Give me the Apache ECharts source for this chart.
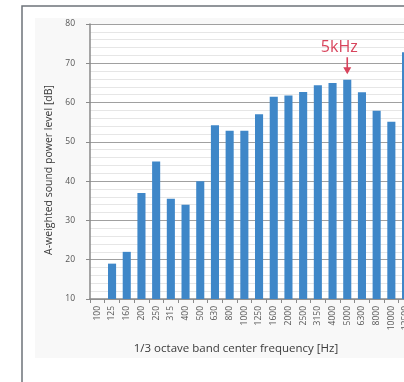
<!DOCTYPE html>
<html>
<head>
<meta charset="utf-8">
<script src="https://cdn.jsdelivr.net/npm/echarts@6/dist/echarts.min.js"></script>
<style>
  html, body { margin: 0; padding: 0; background: #ffffff; overflow: hidden; }
  #chart { width: 440px; height: 382px; }
</style>
</head>
<body>
<div id="chart"></div>
<script>
// 1/3 octave band centre frequencies [Hz]
const bands = ['100', '125', '160', '200', '250', '315', '400', '500', '630', '800',
  '1000', '1250', '1600', '2000', '2500', '3150', '4000', '5000', '6300', '8000',
  '10000', '12500'];

// A-weighted sound power level per band [dB]
const levels = [null, 19, 22, 37, 45, 35.5, 34, 40, 54.2, 52.8,
  52.8, 57, 61.5, 61.8, 62.7, 64.4, 65, 65.8, 62.6, 57.9,
  55.1, 72.8];

// y-axis range and step
const yMin = 10;
const yMax = 80;
const yStep = 10;

// highlighted band
const peakBand = '5000';
const peakText = '5kHz';

const peakValue = levels[bands.indexOf(peakBand)];

const chart = echarts.init(document.getElementById('chart'), null, { renderer: 'canvas' });

chart.setOption({
  backgroundColor: '#ffffff',
  animation: false,
  graphic: [
    // panel background
    { type: 'rect', shape: { x: 35, y: 18, width: 420, height: 340 },
      style: { fill: '#f8f8f8' }, z: -10 },
    // outer frame
    { type: 'polyline', shape: { points: [[22, 382], [22, 6], [440, 6]] },
      style: { stroke: '#6e737a', lineWidth: 1.5, fill: null }, z: -5 },
    // axis titles
    { type: 'text', x: 49, y: 170, rotation: Math.PI / 2,
      style: { text: 'A-weighted sound power level [dB]', fill: '#3a3a3a',
        font: '10.5px "Open Sans", sans-serif', align: 'center', verticalAlign: 'middle' } },
    { type: 'text', x: 236, y: 349,
      style: { text: '1/3 octave band center frequency [Hz]', fill: '#3a3a3a',
        font: '11.5px "Open Sans", sans-serif', align: 'center', verticalAlign: 'middle' } }
  ],
  grid: {
    left: 90, top: 24, width: 323.4, height: 275,
    show: true, backgroundColor: '#ffffff', borderWidth: 0
  },
  xAxis: {
    type: 'category',
    data: bands,
    boundaryGap: true,
    axisLine: { lineStyle: { color: '#8a8a8a', width: 1.5 } },
    axisTick: { show: true, length: 4, lineStyle: { color: '#8a8a8a' } },
    axisLabel: {
      interval: 0, rotate: 90, margin: 7,
      fontSize: 8.5, color: '#555555', fontFamily: '"Open Sans", sans-serif'
    },
    splitLine: { show: false }
  },
  yAxis: {
    type: 'value',
    min: yMin, max: yMax, interval: yStep,
    axisLine: { show: true, lineStyle: { color: '#8a8a8a', width: 1.5 } },
    axisTick: { show: true, length: 4, lineStyle: { color: '#8a8a8a' } },
    axisLabel: { margin: 15, fontSize: 8.5, color: '#555555', fontFamily: '"Open Sans", sans-serif' },
    splitLine: { show: true, lineStyle: { color: '#a0a0a0', width: 1 } },
    minorTick: { show: false, splitNumber: 5 },
    minorSplitLine: { show: true, lineStyle: { color: '#e6e6e6', width: 1 } }
  },
  series: [{
    type: 'bar',
    data: levels,
    barCategoryGap: '45%',
    itemStyle: { color: '#3f87c8' },
    markPoint: {
      silent: true,
      data: [
        {
          coord: [peakBand, peakValue],
          symbol: 'path://M4,0 L6,0 L6,11 L10,11 L5,19 L0,11 L4,11 Z',
          symbolSize: [8, 17],
          symbolOffset: [0, -14],
          itemStyle: { color: '#d8445c' },
          label: { show: false }
        },
        {
          coord: [peakBand, peakValue],
          symbol: 'circle',
          symbolSize: 0,
          label: {
            show: true, formatter: peakText, position: 'inside',
            offset: [-8, -32.5],
            color: '#d8445c', fontSize: 16,
            fontFamily: '"Open Sans", sans-serif'
          }
        }
      ]
    }
  }]
});
</script>
</body>
</html>
